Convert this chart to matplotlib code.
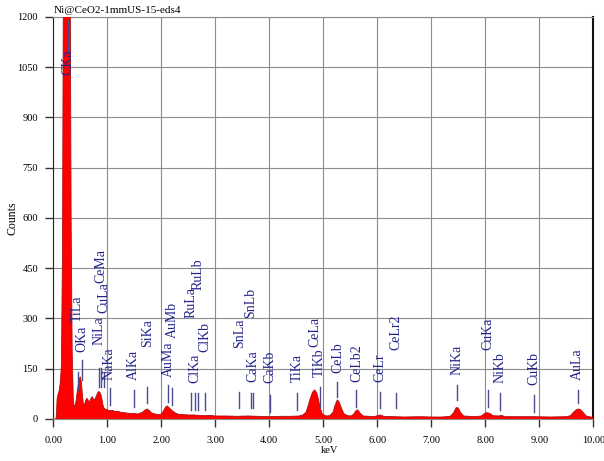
import matplotlib
matplotlib.use("Agg")
import matplotlib.pyplot as plt
from matplotlib.ticker import MultipleLocator, FormatStrFormatter

plt.rcParams['font.family'] = ['Liberation Serif', 'DejaVu Serif']

# spectrum (keV, counts)
kev = [0.00, 0.05, 0.06, 0.07, 0.09, 0.11, 0.13, 0.15, 0.17, 0.18, 0.19, 0.31, 0.32, 0.33, 0.35,
       0.37, 0.38, 0.40, 0.42, 0.44, 0.46, 0.48, 0.50, 0.52, 0.54, 0.56, 0.58, 0.60, 0.62, 0.64,
       0.66, 0.68, 0.70, 0.72, 0.74, 0.76, 0.78, 0.80, 0.82, 0.84, 0.86, 0.88, 0.90, 0.92, 0.94,
       0.96, 0.98, 1.00, 1.05, 1.10, 1.15, 1.20, 1.25, 1.30, 1.35, 1.40, 1.45, 1.50, 1.55, 1.60,
       1.65, 1.70, 1.74, 1.78, 1.82, 1.88, 1.95, 2.00, 2.04, 2.08, 2.11, 2.15, 2.20, 2.26, 2.32,
       2.40, 2.50, 2.60, 2.70, 2.80, 2.90, 3.00, 3.20, 3.40, 3.60, 3.80, 4.00, 4.20, 4.40, 4.55,
       4.62, 4.68, 4.72, 4.76, 4.80, 4.84, 4.88, 4.91, 4.94, 4.98, 5.05, 5.12, 5.18, 5.22, 5.26,
       5.29, 5.33, 5.38, 5.45, 5.52, 5.57, 5.61, 5.64, 5.68, 5.74, 5.85, 5.95, 6.02, 6.06, 6.12,
       6.30, 6.50, 6.80, 7.00, 7.20, 7.35, 7.41, 7.46, 7.50, 7.54, 7.60, 7.80, 7.93, 7.98, 8.03,
       8.08, 8.14, 8.25, 8.30, 8.36, 8.60, 8.90, 9.20, 9.50, 9.58, 9.63, 9.68, 9.72, 9.77, 9.82,
       9.87, 9.95, 10.00]
counts = [0, 0, 20, 60, 75, 85, 110, 160, 500, 1000, 1500, 1500, 1000, 600, 200,
          60, 42, 38, 52, 78, 100, 120, 126, 110, 70, 40, 45, 55, 62, 58,
          52, 54, 62, 67, 60, 57, 62, 70, 78, 82, 80, 74, 60, 42, 32,
          30, 28, 27, 25, 26, 22, 23, 20, 19, 18, 17, 16, 17, 15, 17,
          20, 27, 30, 25, 18, 15, 13, 15, 24, 36, 39, 33, 25, 18, 14,
          13, 12, 12, 11, 10, 11, 9, 9, 8, 9, 8, 7, 8, 8, 9,
          12, 20, 40, 62, 80, 87, 78, 58, 35, 15, 9, 10, 20, 42, 57,
          52, 35, 16, 10, 9, 16, 26, 27, 18, 9, 8, 7, 11, 12, 8,
          7, 6, 7, 6, 6, 8, 18, 34, 33, 20, 9, 7, 9, 16, 19,
          17, 10, 9, 11, 7, 7, 7, 6, 7, 10, 20, 27, 30, 27, 18,
          9, 6, 5]

# element markers
line_names = ['CKa', 'TiLa', 'OKa', 'NiLa', 'CeMa', 'CuLa', 'NaKa', 'AlKa', 'SiKa', 'AuMa',
              'AuMb', 'RuLa', 'ClKa', 'RuLb', 'ClKb', 'SnLa', 'SnLb', 'CaKa', 'CaKb', 'TiKa',
              'CeLa', 'TiKb', 'CeLb', 'CeLb2', 'CeLr', 'CeLr2', 'NiKa', 'CuKa', 'NiKb', 'CuKb',
              'AuLa']
line_kev = [0.277, 0.452, 0.525, 0.851, 0.883, 0.930, 1.041, 1.486, 1.739, 2.123,
            2.205, 2.558, 2.622, 2.683, 2.816, 3.444, 3.663, 3.691, 4.012, 4.510,
            4.839, 4.931, 5.262, 5.613, 6.052, 6.340, 7.478, 8.048, 8.265, 8.905,
            9.713]

# layout: where each label text starts and the span of its tick (in counts)
text_base = [1028, 290, 200, 221, 406, 317, 117, 117, 215, 125,
             242, 302, 108, 385, 200, 212, 302, 111, 108, 111,
             215, 125, 137, 111, 111, 206, 131, 206, 108, 102,
             117]
tick_span = [(1094, 1192), (87, 140), (117, 176), (96, 152), (96, 152), (96, 140), (42, 93),
             (36, 87), (48, 96), (51, 102), (42, 93), (27, 78), (27, 78), (27, 78), (27, 78),
             (33, 81), (33, 78), (33, 78), (21, 72), (27, 78), None, (36, 96), (66, 111),
             (36, 87), (33, 81), (33, 78), (57, 102), (36, 87), (27, 78), (21, 72), (48, 87)]

fig = plt.figure(figsize=(6.04, 4.61), dpi=100)
ax = fig.add_axes([53.3 / 604, 1 - 419 / 461, 540 / 604, 402 / 461])

ax.fill_between(kev, counts, 0, color='#ff0000', linewidth=0, zorder=3)
ax.plot(kev, counts, color='#b01010', linewidth=0.6, zorder=3)

text_color = '#23238c'
for name, e, base, span in zip(line_names, line_kev, text_base, tick_span):
    if span is not None:
        ax.plot([e, e], span, color='#4a4a90', linewidth=1.0, zorder=4)
    ax.text(e, base, name, rotation=90, ha='center', va='bottom',
            fontsize=10, color=text_color, zorder=5, clip_on=False)

ax.set_xlim(0, 10)
ax.set_ylim(0, 1200)
ax.xaxis.set_major_locator(MultipleLocator(1))
ax.xaxis.set_major_formatter(FormatStrFormatter('%.2f'))
ax.yaxis.set_major_locator(MultipleLocator(150))
ax.grid(True, color='#8c8c8c', linewidth=0.8, zorder=0)
ax.set_axisbelow(True)
ax.tick_params(axis='both', direction='out', length=6, width=1, labelsize=7.5, color='#333333')
ax.tick_params(axis='x', pad=6)
ax.tick_params(axis='y', pad=5)

ax.spines['left'].set_color('#222222')
ax.spines['right'].set_color('#111111')
ax.spines['right'].set_linewidth(1.5)
ax.spines['top'].set_color('#8c8c8c')
ax.spines['bottom'].set_color('#8c8c8c')

fig.text(53.3 / 604, 1 - 15 / 461, 'Ni@CeO2-1mmUS-15-eds4', fontsize=8, ha='left', va='bottom')
fig.text(13 / 604, 1 - 218 / 461, 'Counts', fontsize=8.5, rotation=90, ha='center', va='center')
fig.text(330 / 604, 1 - 450 / 461, 'keV', fontsize=7.5, ha='center', va='center')

fig.savefig('out.png', dpi=100)
